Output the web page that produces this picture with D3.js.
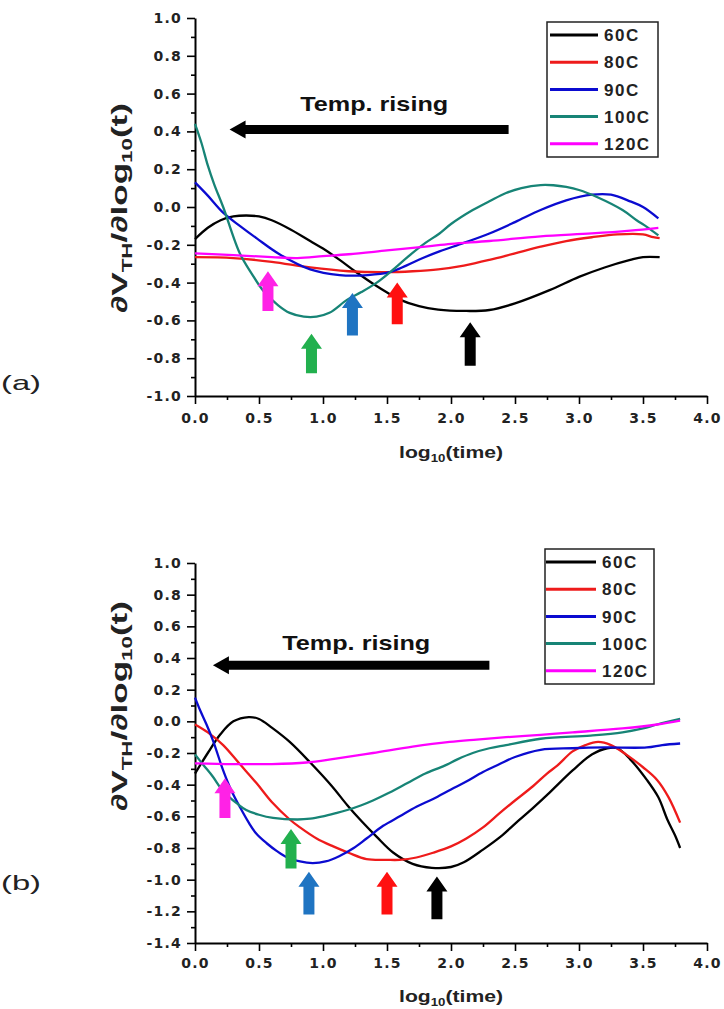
<!DOCTYPE html>
<html lang="en">
<head>
<meta charset="UTF-8">
<title>dVth / dlog(t)</title>
<script src="https://cdn.jsdelivr.net/npm/d3@7"></script>
<style>
  body { margin: 0; background: #ffffff; }
  text { font-family: "Liberation Sans", Arial, sans-serif; }
  .tick text { font-family: "DejaVu Sans", sans-serif; font-weight: bold; font-size: 14px; letter-spacing: 1.2px; fill: #222; }
</style>
</head>
<body>
<div id="chart"></div>
<script>
// ---- data ----
const seriesNames = ['60C', '80C', '90C', '100C', '120C'];
const seriesColors = ['#000000', '#ee1b1b', '#0b0bd0', '#178476', '#ff00ff'];

const xTicks = [0, 0.5, 1.0, 1.5, 2.0, 2.5, 3.0, 3.5, 4.0];
const yTicksA = [-1.0, -0.8, -0.6, -0.4, -0.2, 0.0, 0.2, 0.4, 0.6, 0.8, 1.0];
const yTicksB = [-1.4, -1.2, -1.0, -0.8, -0.6, -0.4, -0.2, 0.0, 0.2, 0.4, 0.6, 0.8, 1.0];

// panel (a): [log10(time), dVth/dlog10(t)]
const a60 = [[0,-0.17],[0.1,-0.11],[0.2,-0.07],[0.3,-0.05],[0.4,-0.045],[0.5,-0.05],[0.6,-0.07],[0.75,-0.12],[0.9,-0.18],[1.0,-0.22],[1.13,-0.28],[1.25,-0.34],[1.4,-0.41],[1.52,-0.46],[1.6,-0.49],[1.75,-0.525],[1.9,-0.543],[2.1,-0.55],[2.3,-0.545],[2.5,-0.51],[2.77,-0.44],[3.0,-0.37],[3.2,-0.32],[3.4,-0.28],[3.5,-0.265],[3.63,-0.265]];
const a80 = [[0,-0.265],[0.3,-0.27],[0.6,-0.29],[0.9,-0.32],[1.2,-0.34],[1.5,-0.345],[1.7,-0.34],[1.9,-0.33],[2.1,-0.31],[2.3,-0.28],[2.5,-0.245],[2.7,-0.21],[2.9,-0.18],[3.1,-0.16],[3.3,-0.145],[3.5,-0.145],[3.58,-0.16],[3.63,-0.165]];
const a90 = [[0,0.13],[0.1,0.06],[0.22,-0.03],[0.35,-0.1],[0.48,-0.165],[0.66,-0.25],[0.9,-0.33],[1.13,-0.36],[1.35,-0.36],[1.52,-0.345],[1.65,-0.31],[1.78,-0.27],[1.91,-0.235],[2.1,-0.19],[2.3,-0.14],[2.5,-0.08],[2.7,-0.016],[2.9,0.035],[3.1,0.065],[3.25,0.065],[3.4,0.03],[3.5,0.0],[3.62,-0.06]];
const a100 = [[0,0.44],[0.05,0.34],[0.1,0.22],[0.15,0.12],[0.22,0.0],[0.35,-0.245],[0.45,-0.36],[0.53,-0.44],[0.65,-0.52],[0.74,-0.56],[0.85,-0.58],[0.95,-0.58],[1.05,-0.56],[1.19,-0.49],[1.3,-0.45],[1.42,-0.40],[1.55,-0.33],[1.66,-0.265],[1.8,-0.19],[1.91,-0.14],[2.0,-0.09],[2.17,-0.016],[2.3,0.03],[2.43,0.074],[2.55,0.1],[2.7,0.116],[2.8,0.115],[2.9,0.106],[3.0,0.09],[3.14,0.053],[3.34,-0.016],[3.45,-0.07],[3.53,-0.105],[3.62,-0.15]];
const a120 = [[0,-0.245],[0.3,-0.255],[0.6,-0.265],[0.8,-0.27],[1.0,-0.26],[1.2,-0.25],[1.5,-0.23],[1.8,-0.21],[2.0,-0.195],[2.3,-0.18],[2.7,-0.155],[3.1,-0.14],[3.4,-0.125],[3.62,-0.11]];

// panel (b)
const b60 = [[0,-0.33],[0.1,-0.2],[0.2,-0.08],[0.3,0.0],[0.42,0.027],[0.5,0.015],[0.6,-0.04],[0.74,-0.13],[0.9,-0.26],[1.07,-0.41],[1.19,-0.53],[1.3,-0.63],[1.42,-0.73],[1.55,-0.83],[1.7,-0.9],[1.85,-0.925],[2.0,-0.92],[2.1,-0.89],[2.25,-0.81],[2.4,-0.72],[2.51,-0.64],[2.65,-0.54],[2.77,-0.45],[2.95,-0.31],[3.1,-0.21],[3.22,-0.17],[3.3,-0.17],[3.4,-0.24],[3.53,-0.37],[3.62,-0.48],[3.69,-0.62],[3.75,-0.72],[3.79,-0.80]];
const b80 = [[0,-0.02],[0.1,-0.07],[0.22,-0.15],[0.35,-0.27],[0.48,-0.39],[0.6,-0.51],[0.74,-0.62],[0.82,-0.67],[0.95,-0.74],[1.08,-0.79],[1.2,-0.83],[1.34,-0.87],[1.5,-0.875],[1.6,-0.875],[1.73,-0.86],[1.86,-0.83],[2.0,-0.79],[2.12,-0.74],[2.25,-0.67],[2.38,-0.58],[2.5,-0.50],[2.64,-0.41],[2.75,-0.33],[2.83,-0.28],[2.95,-0.19],[3.05,-0.15],[3.15,-0.13],[3.25,-0.15],[3.37,-0.21],[3.5,-0.29],[3.61,-0.37],[3.7,-0.48],[3.79,-0.64]];
const b90 = [[0,0.15],[0.04,0.07],[0.09,-0.02],[0.14,-0.12],[0.22,-0.31],[0.28,-0.43],[0.35,-0.54],[0.42,-0.64],[0.48,-0.71],[0.56,-0.77],[0.64,-0.82],[0.72,-0.86],[0.82,-0.885],[0.92,-0.895],[1.02,-0.885],[1.13,-0.85],[1.24,-0.80],[1.34,-0.74],[1.47,-0.66],[1.6,-0.60],[1.73,-0.54],[1.86,-0.49],[2.0,-0.43],[2.12,-0.38],[2.25,-0.32],[2.38,-0.27],[2.5,-0.225],[2.7,-0.18],[2.95,-0.17],[3.2,-0.165],[3.53,-0.165],[3.65,-0.15],[3.79,-0.14]];
const b100 = [[0,-0.21],[0.07,-0.28],[0.14,-0.35],[0.2,-0.42],[0.27,-0.48],[0.33,-0.52],[0.4,-0.56],[0.5,-0.59],[0.61,-0.61],[0.8,-0.62],[0.9,-0.615],[1.0,-0.60],[1.1,-0.58],[1.19,-0.56],[1.3,-0.53],[1.39,-0.50],[1.52,-0.45],[1.66,-0.39],[1.8,-0.33],[1.95,-0.28],[2.05,-0.24],[2.17,-0.20],[2.3,-0.17],[2.43,-0.15],[2.7,-0.11],[3.09,-0.09],[3.34,-0.07],[3.5,-0.045],[3.61,-0.02],[3.79,0.015]];
const b120 = [[0,-0.265],[0.3,-0.27],[0.6,-0.27],[0.87,-0.26],[1.1,-0.235],[1.39,-0.2],[1.7,-0.16],[1.99,-0.13],[2.2,-0.115],[2.43,-0.1],[2.7,-0.085],[2.95,-0.07],[3.34,-0.045],[3.61,-0.02],[3.79,0.005]];

// minimum markers (small up arrows): x, tip y, base y
const markerColors = ['#ff22e6', '#22b04e', '#1f74c2', '#ff1010', '#000000'];
const aMarkX = [0.57, 0.91, 1.23, 1.58, 2.15];
const aMarkTip = [-0.34, -0.67, -0.455, -0.40, -0.61];
const aMarkBase = [-0.55, -0.88, -0.68, -0.62, -0.84];
const bMarkX = [0.234, 0.75, 0.89, 1.5, 1.89];
const bMarkTip = [-0.36, -0.68, -0.95, -0.95, -0.98];
const bMarkBase = [-0.61, -0.93, -1.22, -1.22, -1.25];

// "Temp. rising" arrow: [tip x, tail x, y], label [x, y]
const aTempArrow = [0.27, 2.45, 0.41];
const aTempLabel = [1.40, 0.55];
const bTempArrow = [0.14, 2.30, 0.355];
const bTempLabel = [1.26, 0.50];

// ---- drawing ----
const W = 724, H = 1009;
const svg = d3.select('#chart').append('svg').attr('width', W).attr('height', H);
const fmt = d => d3.format('.1f')(d).replace('\u2212', '-');

function drawPanel(p) {
    const x = d3.scaleLinear().domain([0, 4]).range([195, 707]);
    const y = d3.scaleLinear().domain([p.yTicks[0], 1.0]).range([p.bottom, p.top]);
    const g = svg.append('g');

    // minor ticks first
    const yMinor = p.yTicks.slice(0, -1).map(v => v + 0.1);
    const xMinor = xTicks.slice(0, -1).map(v => v + 0.25);
    g.append('g').attr('transform', `translate(195,0)`)
        .call(d3.axisLeft(y).tickValues(yMinor).tickSize(4).tickFormat(''))
        .call(s => s.select('.domain').remove());
    g.append('g').attr('transform', `translate(0,${p.bottom})`)
        .call(d3.axisBottom(x).tickValues(xMinor).tickSize(4).tickFormat(''))
        .call(s => s.select('.domain').remove());

    g.append('g').attr('transform', `translate(195,0)`)
        .call(d3.axisLeft(y).tickValues(p.yTicks).tickSize(8).tickSizeOuter(0).tickPadding(5).tickFormat(fmt));
    g.append('g').attr('transform', `translate(0,${p.bottom})`)
        .call(d3.axisBottom(x).tickValues(xTicks).tickSize(8).tickSizeOuter(0).tickPadding(p.xPad).tickFormat(fmt));
    g.selectAll('.domain').attr('stroke-width', 2);
    g.selectAll('.tick line').attr('stroke-width', 1.6);

    // axis titles
    g.append('text')
        .attr('x', 451).attr('y', p.bottom + p.xTitleDy)
        .attr('text-anchor', 'middle')
        .attr('font-weight', 'bold').attr('font-size', 16).attr('fill', '#222')
        .attr('textLength', 104).attr('lengthAdjust', 'spacingAndGlyphs')
        .call(t => {
            t.append('tspan').text('log');
            t.append('tspan').attr('font-size', 10).attr('dy', 4).text('10');
            t.append('tspan').attr('dy', -4).text('(time)');
        });

    g.append('text')
        .attr('transform', `translate(127,${p.yTitleY}) rotate(-90)`)
        .attr('text-anchor', 'middle')
        .attr('font-weight', 'bold').attr('font-size', 22).attr('fill', '#222')
        .attr('textLength', 210).attr('lengthAdjust', 'spacingAndGlyphs')
        .call(t => {
            t.append('tspan').text('\u2202V');
            t.append('tspan').attr('font-size', 14).attr('dy', 5).text('TH');
            t.append('tspan').attr('dy', -5).text('/\u2202log');
            t.append('tspan').attr('font-size', 14).attr('dy', 5).text('10');
            t.append('tspan').attr('dy', -5).text('(t)');
        });

    // curves
    const line = d3.line()
        .x(d => x(d[0])).y(d => y(d[1]))
        .curve(d3.curveCatmullRom.alpha(0.5));
    g.selectAll('path.curve')
        .data(p.series)
        .enter()
        .append('path')
        .attr('class', 'curve')
        .attr('d', d => line(d))
        .attr('fill', 'none')
        .attr('stroke', (d, i) => seriesColors[i])
        .attr('stroke-width', 2.3);

    // small up arrows marking the minima
    const arrowPath = (cx, tipY, baseY) => {
        const sw = 5.5, hw = 10.5, hl = 15;
        return `M${cx},${tipY} L${cx + hw},${tipY + hl} L${cx + sw},${tipY + hl} L${cx + sw},${baseY}` +
            ` L${cx - sw},${baseY} L${cx - sw},${tipY + hl} L${cx - hw},${tipY + hl} Z`;
    };
    g.selectAll('path.mark')
        .data(p.markX)
        .enter()
        .append('path')
        .attr('class', 'mark')
        .attr('d', (d, i) => arrowPath(x(d), y(p.markTip[i]), y(p.markBase[i])))
        .attr('fill', (d, i) => markerColors[i]);

    // "Temp. rising" arrow
    const [tx0, tx1, ty] = p.temp;
    const ax0 = x(tx0), ax1 = x(tx1), ay = y(ty);
    g.append('path')
        .attr('d', `M${ax0},${ay} L${ax0 + 16},${ay - 9} L${ax0 + 16},${ay - 4.5} L${ax1},${ay - 4.5}` +
            ` L${ax1},${ay + 4.5} L${ax0 + 16},${ay + 4.5} L${ax0 + 16},${ay + 9} Z`)
        .attr('fill', '#000');
    g.append('text')
        .attr('x', x(p.tempLabel[0])).attr('y', y(p.tempLabel[1]))
        .attr('dy', '0.36em')
        .attr('text-anchor', 'middle')
        .attr('font-family', '"Open Sans", "Noto Sans", sans-serif')
        .attr('font-weight', 600).attr('font-size', 21).attr('fill', '#111')
        .attr('textLength', 148).attr('lengthAdjust', 'spacingAndGlyphs')
        .text('Temp. rising');

    // legend
    const lg = g.append('g');
    lg.append('rect')
        .attr('x', p.legend.x).attr('y', p.legend.y)
        .attr('width', p.legend.w).attr('height', p.legend.h)
        .attr('fill', '#fff').attr('stroke', '#222').attr('stroke-width', 1.5);
    seriesNames.forEach((name, i) => {
        const ly = p.legend.y + 13 + i * 27.2;
        lg.append('line')
            .attr('x1', p.legend.x + p.legend.lineStart).attr('x2', p.legend.x + 51)
            .attr('y1', ly).attr('y2', ly)
            .attr('stroke', seriesColors[i]).attr('stroke-width', 3);
        lg.append('text')
            .attr('x', p.legend.x + 57).attr('y', ly).attr('dy', '0.36em')
            .attr('font-weight', 'bold').attr('font-size', 17).attr('fill', '#222')
            .attr('letter-spacing', 1.5)
            .text(name);
    });

    // panel letter
    svg.append('text')
        .attr('x', 1).attr('y', p.letterY)
        .attr('font-family', '"Liberation Serif", "DejaVu Serif", serif')
        .attr('font-size', 21).attr('fill', '#222')
        .attr('textLength', 40).attr('lengthAdjust', 'spacingAndGlyphs')
        .text(p.letter);
}

drawPanel({
    top: 18, bottom: 396, yTicks: yTicksA, xPad: 9, xTitleDy: 62, yTitleY: 208,
    series: [a60, a80, a90, a100, a120],
    markX: aMarkX, markTip: aMarkTip, markBase: aMarkBase,
    temp: aTempArrow, tempLabel: aTempLabel,
    legend: { x: 547, y: 22, w: 111, h: 135, lineStart: 3 },
    letter: '(a)', letterY: 390
});

drawPanel({
    top: 563, bottom: 943, yTicks: yTicksB, xPad: 7, xTitleDy: 59, yTitleY: 706,
    series: [b60, b80, b90, b100, b120],
    markX: bMarkX, markTip: bMarkTip, markBase: bMarkBase,
    temp: bTempArrow, tempLabel: bTempLabel,
    legend: { x: 545, y: 549, w: 109, h: 135, lineStart: 1 },
    letter: '(b)', letterY: 890
});
</script>
</body>
</html>
